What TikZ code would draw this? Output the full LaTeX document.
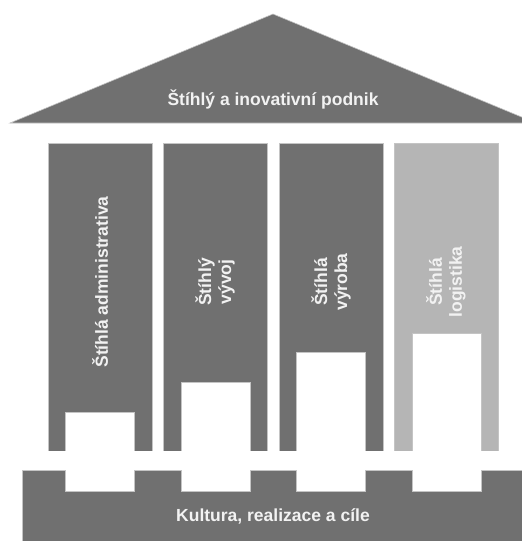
\documentclass[tikz,border=0pt]{standalone}
\usepackage{fontspec}
\setmainfont{Liberation Sans}
\definecolor{pillargray}{HTML}{707070}
\definecolor{lightpillar}{HTML}{B5B5B5}
\definecolor{edgegray}{HTML}{C4C4C4}
\definecolor{labelwhite}{HTML}{F2F2F2}
\begin{document}
\begin{tikzpicture}[x=1pt,y=-1pt,
  every node/.style={inner sep=0pt,outer sep=0pt},
  block/.style={draw=edgegray,line width=0.6pt,fill=pillargray,anchor=north west},
  pillar/.style={block,minimum width=104pt,minimum height=308pt},
  notch/.style={draw=edgegray,line width=0.6pt,fill=white,anchor=north,minimum width=69pt},
  caption/.style={text=labelwhite,font=\fontsize{17.5}{20}\selectfont\bfseries,align=center},
  upcaption/.style={caption,rotate=90}]
\useasboundingbox (0,0) rectangle (522,541);
\clip (0,0) rectangle (522,541);

% roof
\fill[pillargray,draw=edgegray,line width=0.6pt] (10,123) -- (273,14) -- (536,123) -- cycle;
\node[caption] (rooftext) at (273,99) {Štíhlý a inovativní podnik};

% foundation
\node[block,minimum width=520pt,minimum height=90pt] (base) at (22,470) {};

% pillars
\node[pillar] (p1) at (48,143) {};
\node[pillar] (p2) at (163,143) {};
\node[pillar] (p3) at (279,143) {};
\node[pillar,fill=lightpillar] (p4) at (394,143) {};

% white notches running from each pillar into the foundation
\node[notch,minimum height=79pt]  (n1) at (100,412)   {};
\node[notch,minimum height=109pt] (n2) at (215.5,382) {};
\node[notch,minimum height=139pt] (n3) at (331,352)   {};
\node[notch,minimum height=158pt] (n4) at (446.5,333) {};
% gap between pillars and foundation
\fill[white] (23,451.3) rectangle (522,469.7);

% captions
\node[upcaption] (t1) at (100,282) {Štíhlá administrativa};
\node[upcaption] (t2) at (215,282) {Štíhlý\\vývoj};
\node[upcaption] (t3) at (331,282) {Štíhlá\\výroba};
\node[upcaption] (t4) at (446,282) {Štíhlá\\logistika};
\node[caption] (basetext) at (273,516) {Kultura, realizace a cíle};
\end{tikzpicture}
\end{document}
